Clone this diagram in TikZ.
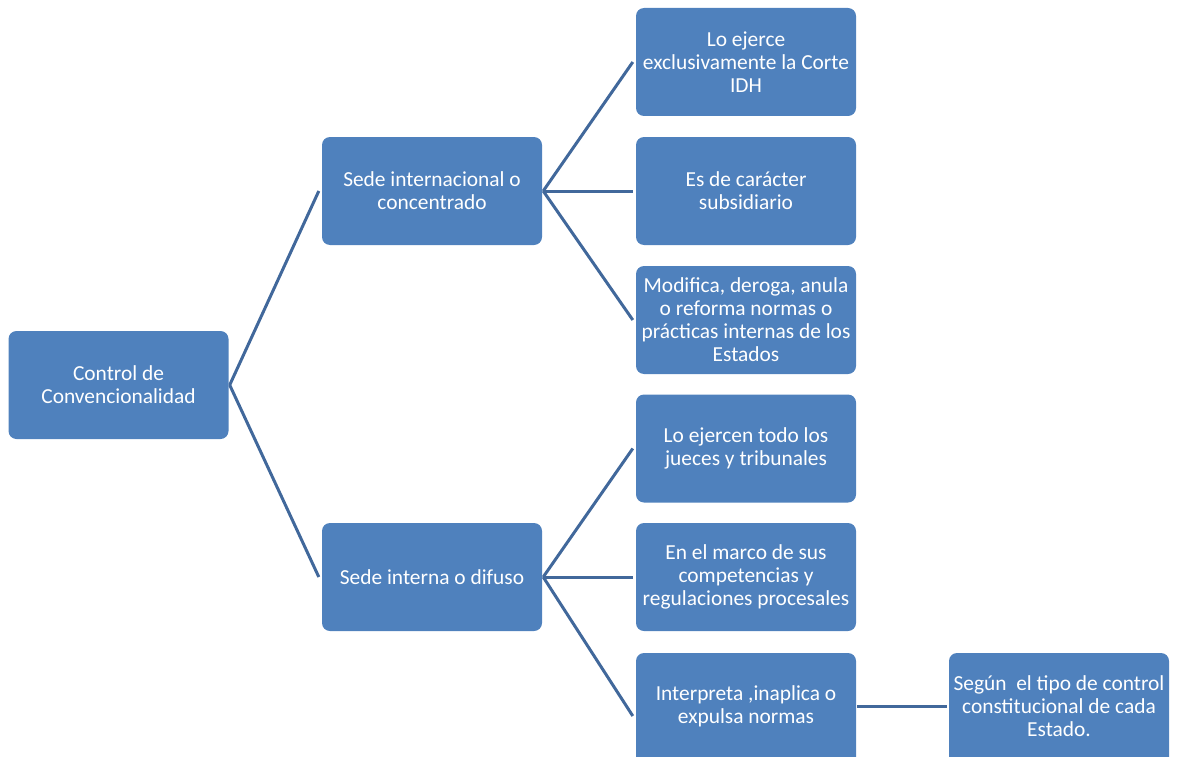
\documentclass[tikz,border=0pt]{standalone}
\usepackage{fontspec}
\setmainfont{Carlito}
\definecolor{boxblue}{HTML}{4F81BD}
\definecolor{lineblue}{HTML}{41689B}
\begin{document}
\begin{tikzpicture}[x=1pt,y=-1pt,
  box/.style={draw=none,fill=boxblue,rounded corners=8pt,text=white,
    minimum width=220pt,minimum height=108pt,align=center,
    inner sep=0pt,font=\fontsize{21.4}{23}\selectfont},
  lbl/.style={text=white,align=center,inner sep=0pt,font=\fontsize{21.4}{23}\selectfont},
  conn/.style={draw=lineblue,line width=3pt}]
\useasboundingbox (0,0) rectangle (1185,757);
\node[box] (root) at (118.5,385) {Control de\\Convencionalidad};
\node[box] (intl) at (432,191) {Sede internacional o\\concentrado};
\node[box] (intn) at (432,577) {Sede interna o difuso};
\node[box] (a1) at (746,62) {Lo ejerce\\exclusivamente la Corte\\IDH};
\node[box] (a2) at (746,191) {Es de carácter\\subsidiario};
\node[box] (a3) at (746,320) {Modifica, deroga, anula\\o reforma normas o\\prácticas internas de los\\Estados};
\node[box] (b1) at (746,448.5) {Lo ejercen todo los\\jueces y tribunales};
\node[box] (b2) at (746,577) {En el marco de sus\\competencias y\\regulaciones procesales};
\node[box,minimum height=116pt] (b3) at (746,711) {};
\node[lbl] at (746,706) {Interpreta ,inaplica o\\expulsa normas};
\node[box,minimum height=116pt] (c1) at (1059,711) {};
\node[lbl] at (1059,706) {Según\ \ el tipo de control\\constitucional de cada\\Estado.};
\coordinate (b3e) at (857,706);
\coordinate (c1w) at (947,706);
\draw[conn] ([xshift=1pt]root.east) -- ([xshift=-3pt]intl.west);
\draw[conn] ([xshift=1pt]root.east) -- ([xshift=-3pt]intn.west);
\draw[conn] ([xshift=1pt]intl.east) -- ([xshift=-3pt]a1.west);
\draw[conn] ([xshift=1pt]intl.east) -- ([xshift=-3pt]a2.west);
\draw[conn] ([xshift=1pt]intl.east) -- ([xshift=-3pt]a3.west);
\draw[conn] ([xshift=1pt]intn.east) -- ([xshift=-3pt]b1.west);
\draw[conn] ([xshift=1pt]intn.east) -- ([xshift=-3pt]b2.west);
\draw[conn] ([xshift=1pt]intn.east) -- ([xshift=-3pt,yshift=-5pt]b3.west);
\draw[conn] (b3e) -- (c1w);
\end{tikzpicture}
\end{document}
